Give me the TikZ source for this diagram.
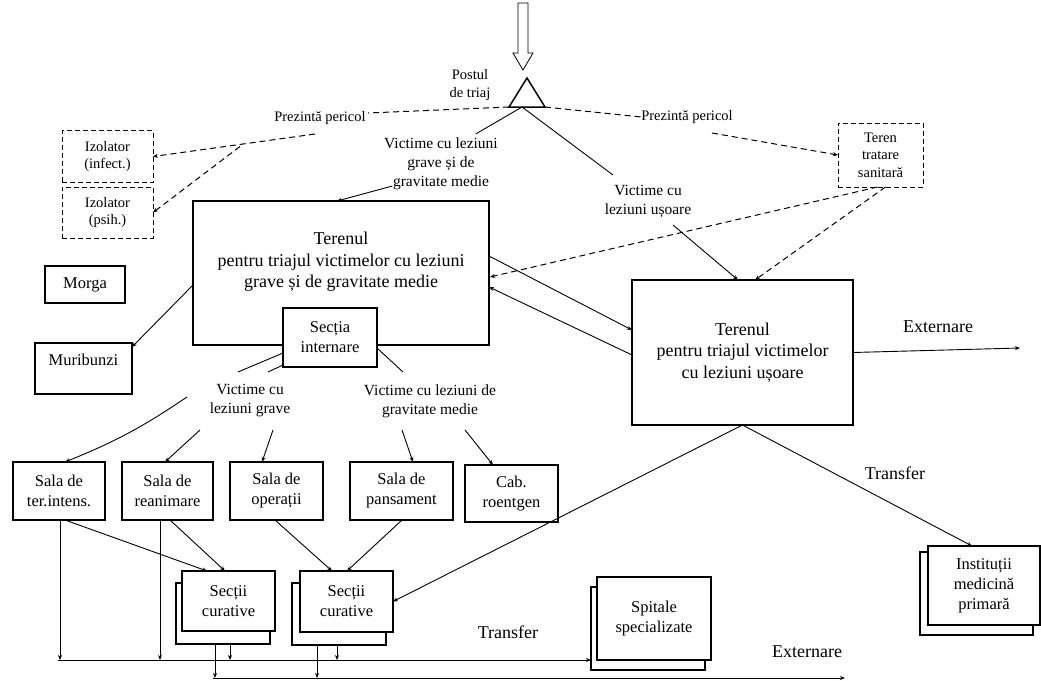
\documentclass[tikz,border=0pt]{standalone}
\usepackage{fontspec}
\setmainfont{Liberation Serif}
\usetikzlibrary{arrows.meta,calc}

\begin{document}
\begin{tikzpicture}[x=1pt,y=-1pt,
  every node/.style={inner sep=0pt, outer sep=0pt, align=center},
  arr/.style={-{Stealth[length=5pt,width=4pt]}, line width=0.9pt},
  plain/.style={line width=0.9pt},
  darr/.style={-{Stealth[length=5pt,width=4pt]}, line width=1pt, dash pattern=on 6pt off 4pt},
  dln/.style={line width=1pt, dash pattern=on 6pt off 4pt},
  box/.style={draw, line width=1.5pt, fill=white},
  dbox/.style={draw, line width=1pt, dash pattern=on 5pt off 3pt, fill=white},
  big/.style={font=\fontsize{18}{21.5}\selectfont},
  mid/.style={font=\fontsize{16.5}{20}\selectfont},
  lbl/.style={font=\fontsize{15.5}{19}\selectfont},
  sml/.style={font=\fontsize{14.5}{17.5}\selectfont},
]
\useasboundingbox (0,0) rectangle (1041,680);
\fill[white] (0,0) rectangle (1041,680);

% incoming flow (hollow arrow) and triage post
\draw[line width=0.8pt] (518,3) -- (528,3) -- (528,53) -- (533,53) -- (523,70)
  -- (513,53) -- (518,53) -- cycle;
\coordinate (tL) at (509,107);
\coordinate (tR) at (545,107);
\coordinate (tA) at (527,78);
\coordinate (tB) at (522,107);
\draw[line width=1.5pt, line join=miter] (tL) -- (tA) -- (tR) -- cycle;
\node[sml] (post) at (470,85) {Postul\\de triaj};

% danger branches
\node[sml] (perL) at (320,118) {Prezintă pericol};
\node[sml] (perR) at (687,117) {Prezintă pericol};
\node[dbox, sml, minimum width=91pt, minimum height=52pt] (izoA) at (107.5,156.5) {Izolator\\(infect.)};
\node[dbox, sml, minimum width=91pt, minimum height=51pt] (izoB) at (107.5,212.5) {Izolator\\(psih.)};
\node[dbox, sml, minimum width=85pt, minimum height=64pt] (teren) at (880.5,155) {Teren\\tratare\\sanitară};

\coordinate (pl1) at (315,134);
\coordinate (pl2) at (240,146.5);
\coordinate (pr1) at (712,133);
\draw[dln] (tL) -- (368,113);
\draw[darr] (pl1) -- (izoA.east);
\draw[darr] (pl2) -- (izoB.east);
\draw[dln] (tR) -- (perR.west);
\draw[darr] (pr1) -- (teren.west);

% triage categories
\node[lbl] (vgm) at (441,164) {Victime cu leziuni\\grave și de\\gravitate medie};
\node[lbl] (vu) at (648,202) {Victime cu\\leziuni ușoare};

% serious / medium triage area
\node[box, minimum width=296pt, minimum height=144pt, fill=none] (bigbox) at (341,273) {};
\node[big] (bigtxt) at (341,262) {Terenul\\pentru triajul victimelor cu leziuni\\grave și de gravitate medie};
\node[box, mid, minimum width=94pt, minimum height=59pt] (sectia) at (330,337.5) {Secția\\internare};

% light triage area
\node[box, big, minimum width=221pt, minimum height=145pt] (rb) at (742.5,352.5) {Terenul\\pentru triajul victimelor\\cu leziuni ușoare};

\node[box, mid, minimum width=80pt, minimum height=37pt] (morga) at (85,284.5) {Morga};
\node[box, minimum width=97pt, minimum height=51pt] (muri) at (83.5,368.5) {};
\node[mid] (muritxt) at (83.5,360) {Muribunzi};

% top connectors
\draw[plain] (tB) -- ($(vgm.north east)+(-22,-4)$);
\draw[arr] ($(vgm.south west)+(8,-4)$) -- (337,201);
\draw[plain] (tB) -- (613,175);
\draw[arr] (673,225) -- (738,280);
\draw[darr] ($(teren.south)+(-3,0)$) -- (490,277);
\draw[darr] ($(teren.south)+(5,0)$) -- (755,280);
\draw[arr] (489,256) -- (632,330);
\draw[arr] (632,355) -- (489,287);
\draw[arr] (193,285) -- (132,347);

% inner categories
\node[lbl] (vg) at (250,401) {Victime cu\\leziuni grave};
\node[lbl] (vm) at (430,401) {Victime cu leziuni de\\gravitate medie};
\draw[plain] (sectia.south west |- 0,353) -- (238,372);
\draw[plain] (sectia.south west |- 0,365) -- (268,372);
\draw[plain] (sectia.south east |- 0,348) -- (403,372);

% treatment rooms
\node[box, mid, minimum width=92pt, minimum height=58pt] (s1) at (59,491) {Sala de\\ter.intens.};
\node[box, mid, minimum width=91pt, minimum height=58pt] (s2) at (167.5,491) {Sala de\\reanimare};
\node[box, mid, minimum width=93pt, minimum height=58pt] (s3) at (276.5,491) {Sala de\\operații};
\node[box, mid, minimum width=103pt, minimum height=58pt] (s4) at (401.5,491) {Sala de\\pansament};
\node[box, mid, minimum width=93pt, minimum height=57pt] (s5) at (511.5,493.5) {Cab.\\roentgen};

\draw[arr] (187,397) to[bend left=6] (65,462);
\draw[arr] (200,430) -- (165,462);
\draw[arr] (273,430) -- (262,462);
\draw[arr] (402,430) -- (413,462);
\draw[arr] (465,430) -- (493,465);

% curative wards (stacked)
\node[box, line width=1.2pt, minimum width=94pt, minimum height=61pt] (sc1b) at (223,613.5) {};
\node[box, mid, minimum width=93pt, minimum height=60pt] (sc1) at (228.5,601) {Secții\\curative};
\node[box, line width=1.2pt, minimum width=94pt, minimum height=62pt] (sc2b) at (339,614) {};
\node[box, mid, minimum width=93pt, minimum height=61pt] (sc2) at (346.5,601.5) {Secții\\curative};

\draw[arr] (65,520) -- (207,571);
\draw[arr] (170,520) -- (225,571);
\draw[arr] (275,520) -- (332,571);
\draw[arr] (402,520) -- (347,571);
\draw[arr] (rb.south) -- (sc2.east);

% specialised hospitals and primary care (stacked)
\node[box, line width=1.2pt, minimum width=114pt, minimum height=83pt] (spitb) at (648,628.5) {};
\node[box, mid, minimum width=114pt, minimum height=83pt] (spit) at (654,618.5) {Spitale\\specializate};
\node[box, line width=1.2pt, minimum width=113pt, minimum height=83pt] (instb) at (976.5,593.5) {};
\node[box, mid, minimum width=112pt, minimum height=79pt] (inst) at (984,585.5) {Instituții\\medicină\\primară};

\draw[arr] (rb.south) -- (972,546);
\node[big] (tr1) at (895,473) {Transfer};
\draw[arr] (rb.east) -- (1020,348);
\node[big] (ext1) at (938,327) {Externare};

% outgoing flows at the bottom
\coordinate (l1a) at (58,660);
\coordinate (l2a) at (213,678);
\coordinate (l2b) at (845,678);
\draw[arr] (l1a) -- (spitb.west |- l1a);
\draw[arr] (l2a) -- (l2b);
\node[big] (tr2) at (508,632) {Transfer};
\node[big] (ext2) at (807,652) {Externare};

\draw[arr] (s1.south -| 60,0) -- (60,660);
\draw[arr] (s2.south -| 160,0) -- (160,660);
\draw[arr] (sc1b.south -| 230,0) -- (230,660);
\draw[arr] (sc2b.south -| 337,0) -- (337,660);
\draw[arr] (sc1b.south -| 215,0) -- (215,678);
\draw[arr] (sc2b.south -| 317,0) -- (317,678);
\end{tikzpicture}
\end{document}
